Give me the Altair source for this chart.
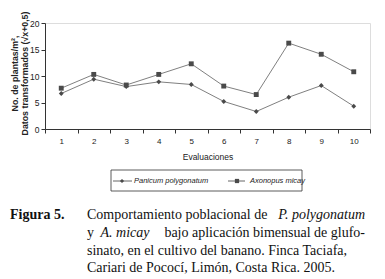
import altair as alt
import pandas as pd

evaluaciones = list(range(1, 11))
panicum = [6.7, 9.4, 8.0, 8.9, 8.4, 5.2, 3.3, 6.0, 8.2, 4.3]
axonopus = [7.7, 10.3, 8.3, 10.3, 12.3, 8.1, 6.5, 16.2, 14.1, 10.8]
series_names = ["Panicum polygonatum", "Axonopus micay"]

df = pd.DataFrame({
    "eval": evaluaciones * 2,
    "value": panicum + axonopus,
    "series": [series_names[0]] * 10 + [series_names[1]] * 10,
})

W, H = 325, 106
SANS = "Liberation Sans"
SERIF = "Liberation Serif"

x = alt.X("eval:O", scale=alt.Scale(type="band", paddingInner=0, paddingOuter=0),
          axis=alt.Axis(title="Evaluaciones", labelAngle=0, tickBand="extent", tickSize=4,
                        labelPadding=4, labelFont=SANS, labelFontSize=8, labelColor="#222",
                        titleFont=SANS, titleFontSize=8.5, titleFontWeight="normal",
                        titleColor="#222", titlePadding=7, domainColor="#333",
                        tickColor="#333", grid=False))
y = alt.Y("value:Q", scale=alt.Scale(domain=[0, 20]),
          axis=alt.Axis(title=["No. de plantas/m², ", "Datos transformados (√x+0,5)"],
                        values=[0, 5, 10, 15, 20], tickSize=4, labelPadding=2,
                        labelFont=SANS, labelFontSize=8.5, labelColor="#222",
                        titleFont=SANS, titleFontSize=8.8, titleFontWeight="bold",
                        titleColor="#222", titleLineHeight=10.5,
                        titleX=-26, titleY=H / 2 - 3, titleAlign="center",
                        titleBaseline="bottom", titleAngle=270,
                        domainColor="#333", tickColor="#333", grid=False))

base = alt.Chart(df)
lines = base.mark_line(color="#808080", strokeWidth=1).encode(x=x, y=y, detail="series:N")
points = base.mark_point(filled=True, color="#4a4a4a", opacity=1, size=24).encode(
    x=x, y=y,
    shape=alt.Shape("series:N", scale=alt.Scale(domain=series_names, range=["diamond", "square"]),
                    legend=None))

one = pd.DataFrame({"a": [0]})

def txt(s, xp, yp, font=SANS, size=8, style="normal", weight="normal", align="left", color="#222"):
    return alt.Chart(one).mark_text(text=s, font=font, fontSize=size, fontStyle=style,
                                    fontWeight=weight, align=align, baseline="middle",
                                    color=color).encode(x=alt.value(xp), y=alt.value(yp))

# legend
legend_box = alt.Chart(one).mark_rect(fill=None, stroke="#333", strokeWidth=0.8).encode(
    x=alt.value(66), x2=alt.value(257), y=alt.value(147), y2=alt.value(168))
leg_y = 158
leg_layers = [legend_box]
for (x0, x1, xm, xt, shp, name) in [(68, 87, 77, 89, "diamond", series_names[0]),
                                    (183, 200, 192, 205, "square", series_names[1])]:
    leg_layers.append(alt.Chart(one).mark_rule(color="#666", strokeWidth=1).encode(
        x=alt.value(x0), x2=alt.value(x1), y=alt.value(leg_y)))
    leg_layers.append(alt.Chart(one).mark_point(filled=True, color="#4a4a4a", opacity=1,
                                                shape=shp, size=18).encode(
        x=alt.value(xm), y=alt.value(leg_y)))
    leg_layers.append(txt(name, xt, leg_y, size=7.5, style="italic"))

# caption
CS = 14
cap = [
    txt("Figura 5.", -35, 192, font=SERIF, size=CS, weight="bold", color="#111"),
    txt("Comportamiento poblacional de ", 42, 192, font=SERIF, size=CS, color="#111"),
    txt("P. polygonatum", 320, 192, font=SERIF, size=CS, style="italic", align="right", color="#111"),
    txt("y ", 42, 210, font=SERIF, size=CS, color="#111"),
    txt("A. micay", 55.5, 210, font=SERIF, size=CS, style="italic", color="#111"),
    txt("bajo aplicación bimensual de glufo-", 320, 210, font=SERIF, size=CS, align="right", color="#111"),
    txt("sinato, en el cultivo del banano. Finca Taciafa,", 42, 227.5, font=SERIF, size=CS, color="#111"),
    txt("Cariari de Pococí, Limón, Costa Rica. 2005.", 42, 245, font=SERIF, size=CS, color="#111"),
]

chart = alt.layer(lines, points, *leg_layers, *cap).properties(
    width=W, height=H,
    autosize=alt.AutoSizeParams(type="none"),
    padding={"left": 37, "top": 15, "right": 7, "bottom": 146},
).configure_view(stroke=None).configure(background="white")

chart.save("out.html", embed_options={"renderer": "svg", "actions": False})
